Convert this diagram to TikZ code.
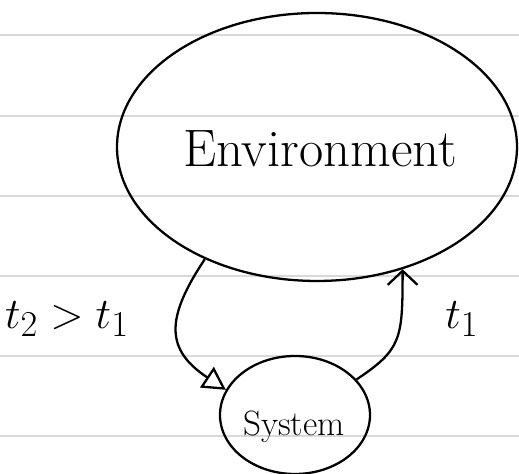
\documentclass[tikz,border=0pt]{standalone}
\usepackage{tikz}
\usetikzlibrary{arrows.meta, positioning, shapes.geometric}

\begin{document}
\begin{tikzpicture}[
    blob/.style={draw, ellipse, line width=1.3pt, inner sep=0pt},
    rule/.style={gray!30, line width=1.4pt},
    flow/.style={line width=1.3pt},
    >=Stealth
  ]
  \useasboundingbox (0,0) rectangle (10.38,9.48);

  % Paper lines
  \foreach \y in {8.78,7.16,5.56,3.96,2.36,0.76} {
    \draw[rule] (0,\y) -- (10.38,\y);
  }

  % Environment and system
  \node[blob, minimum width=8cm, minimum height=5.36cm] (env) at (6.34,6.54) {};
  \node[font=\fontsize{30}{36}\selectfont] (envlabel) at (6.4,6.5) {Environment};
  \node[blob, minimum width=3cm, minimum height=2.36cm] (sys) at (5.9,1.18) {};
  \node[font=\fontsize{20}{24}\selectfont] (syslabel) at (5.88,0.95) {System};

  % Exchange
  \draw[flow, -{Triangle[open, length=13pt, width=14pt]}]
    (env.225) .. controls +(-0.8,-1.2) and +(-1.2,0.8) .. (sys.160);
  \draw[flow, -{Straight Barb[length=8pt, width=17pt]}]
    (sys.30) .. controls +(0.9,0.6) and +(0,-1.4) .. (env.-55);

  % Times
  \node[font=\fontsize{30}{36}\selectfont] (tleft) at (1.34,3.1) {$t_2 > t_1$};
  \node[font=\fontsize{30}{36}\selectfont] (tright) at (9.24,3.1) {$t_1$};
\end{tikzpicture}
\end{document}
